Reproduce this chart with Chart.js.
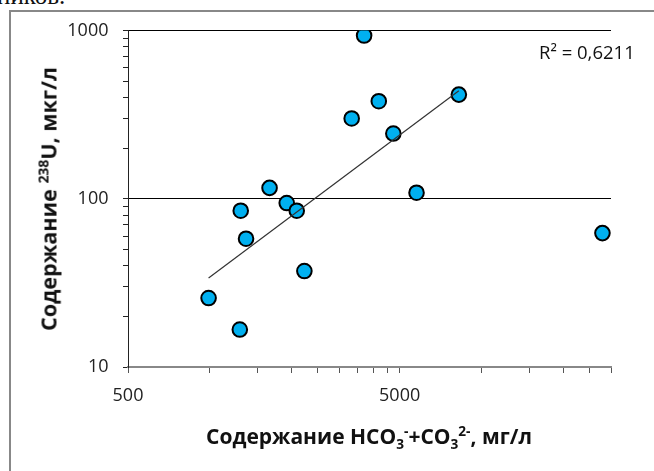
<!DOCTYPE html>
<html>
<head>
<meta charset="utf-8">
<script src="https://cdn.jsdelivr.net/npm/chart.js@4"></script>
<style>
  body { margin: 0; background: #fff; width: 654px; height: 471px; overflow: hidden; position: relative; font-family: "Open Sans", sans-serif; color: #111; }
  #frame { position: absolute; left: 9px; top: 10px; width: 700px; height: 520px; border: 2px solid #888; box-sizing: border-box; }
  #chart { position: absolute; left: 0; top: 0; }
  .doc { position: absolute; left: -3px; top: -16px; font: 25px/24px "Liberation Serif", serif; }
  .ytitle { position: absolute; left: 48px; top: 199px; transform: translate(-50%, -50%) rotate(-90deg); white-space: nowrap; font-weight: bold; font-size: 21.5px; }
  .xtitle { position: absolute; left: 369px; top: 436px; transform: translate(-50%, -50%); white-space: nowrap; font-weight: bold; font-size: 21px; }
  .r2 { position: absolute; left: 539px; top: 39px; font-size: 18.5px; white-space: nowrap; }
  sup, sub { font-size: 0.65em; line-height: 0; }
</style>
</head>
<body>
<div class="doc">ников.</div>
<div id="frame"></div>
<canvas id="chart" width="654" height="471"></canvas>
<div class="ytitle">Содержание <sup>238</sup>U, мкг/л</div>
<div class="xtitle">Содержание HCO<sub>3</sub><sup>-</sup>+CO<sub>3</sub><sup>2-</sup>, мг/л</div>
<div class="r2">R² = 0,6211</div>
<script>
// HCO3- + CO3 2- (mg/l) against 238U (mkg/l)
const hco3 = [3700, 8260, 4190, 3330, 4740, 1660, 5770, 1920, 2090, 1300, 1360, 27900, 2230, 990, 1290];
const uranium = [933, 416, 380, 300, 244, 116, 108.6, 94.3, 84.9, 84.9, 57.9, 62.5, 37.2, 25.7, 16.7];

// trend line ends
const trendX = [990, 8260];
const trendY = [33.8, 438];

const xTicks = [500, 1000, 1500, 2000, 2500, 3000, 3500, 4000, 4500, 5000, 10000, 15000, 20000, 25000, 30000];
const xLabels = [500, 5000];
const yTicks = [10, 20, 30, 40, 50, 60, 70, 80, 90, 100, 200, 300, 400, 500, 600, 700, 800, 900, 1000];
const yLabels = [10, 100, 1000];
const yGrid = [100, 1000];

const tickFont = { family: 'Open Sans', size: 18 };

const ctx = document.getElementById('chart').getContext('2d');
const chart = new Chart(ctx, {
    type: 'scatter',
    data: {
        datasets: [
            {
                label: 'trend',
                data: trendX.map((x, i) => ({ x: x, y: trendY[i] })),
                showLine: true,
                borderColor: '#333',
                borderWidth: 1.2,
                pointRadius: 0,
                order: 0
            },
            {
                label: 'U',
                data: hco3.map((x, i) => ({ x: x, y: uranium[i] })),
                backgroundColor: '#00B0F0',
                borderColor: '#000',
                borderWidth: 2,
                pointRadius: 7.3,
                order: 1
            }
        ]
    },
    options: {
        responsive: false,
        animation: false,
        layout: { padding: { left: 0, top: 30.5, right: 43, bottom: 0 } },
        plugins: { legend: { display: false }, tooltip: { enabled: false } },
        scales: {
            x: {
                type: 'logarithmic',
                min: 500,
                max: 30000,
                afterBuildTicks: s => { s.ticks = xTicks.map(v => ({ value: v })); },
                afterFit: s => { s.height = 104; },
                ticks: {
                    autoSkip: false,
                    maxRotation: 0,
                    callback: v => xLabels.includes(v) ? String(v) : '',
                    font: tickFont,
                    color: '#222',
                    padding: 12
                },
                grid: { drawOnChartArea: false, tickLength: 6, tickColor: '#555', tickWidth: 1 },
                border: { color: '#888', width: 2 }
            },
            y: {
                type: 'logarithmic',
                min: 10,
                max: 1000,
                afterBuildTicks: s => { s.ticks = yTicks.map(v => ({ value: v })); },
                afterFit: s => { s.width = 128; },
                ticks: {
                    autoSkip: false,
                    callback: v => yLabels.includes(v) ? String(v) : '',
                    font: tickFont,
                    color: '#222',
                    padding: 14.5
                },
                grid: {
                    color: c => (c.tick && yGrid.includes(c.tick.value)) ? '#000' : 'rgba(0,0,0,0)',
                    lineWidth: 1,
                    tickLength: 5,
                    tickColor: '#222'
                },
                border: { color: '#222', width: 1 }
            }
        }
    }
});
</script>
</body>
</html>
